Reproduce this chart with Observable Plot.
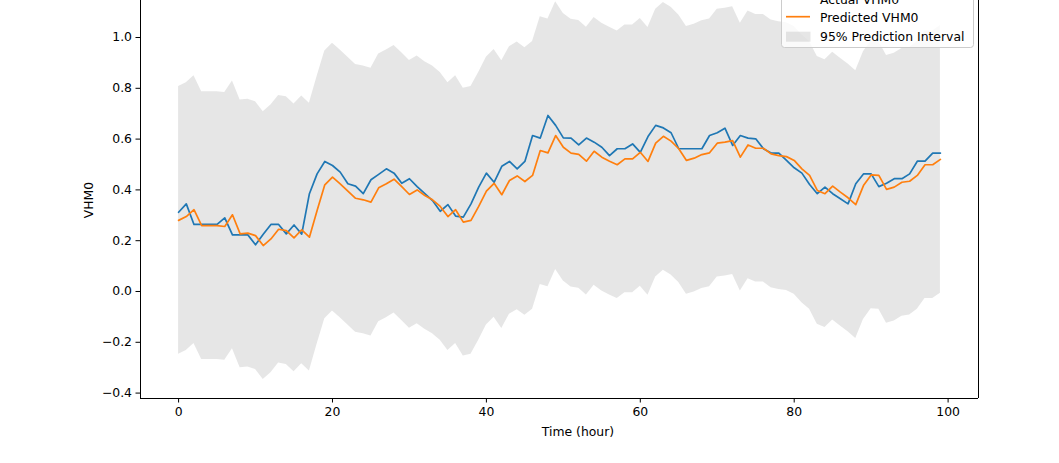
<!DOCTYPE html>
<html>
<head>
<meta charset="utf-8">
<script src="https://cdn.jsdelivr.net/npm/d3@7"></script>
<script src="https://cdn.jsdelivr.net/npm/@observablehq/plot@0.6"></script>
<style>
  body { margin: 0; background: #fff; }
  #chart { position: relative; width: 1059px; height: 463px; overflow: hidden; }
  #chart svg { overflow: hidden; }
</style>
</head>
<body>
<div id="chart"></div>
<script>
// ---- data ----
const hours = [0,1,2,3,4,5,6,7,8,9,10,11,12,13,14,15,16,17,18,19,20,21,22,23,24,25,26,27,28,29,
  30,31,32,33,34,35,36,37,38,39,40,41,42,43,44,45,46,47,48,49,50,51,52,53,54,55,56,57,58,59,
  60,61,62,63,64,65,66,67,68,69,70,71,72,73,74,75,76,77,78,79,80,81,82,83,84,85,86,87,88,89,
  90,91,92,93,94,95,96,97,98,99];

const actual = [0.312,0.345,0.264,0.264,0.264,0.264,0.290,0.223,0.223,0.223,
  0.184,0.225,0.264,0.264,0.227,0.262,0.226,0.385,0.463,0.512,
  0.496,0.470,0.424,0.415,0.385,0.440,0.461,0.483,0.466,0.426,
  0.444,0.413,0.385,0.358,0.316,0.342,0.297,0.293,0.345,0.411,
  0.466,0.430,0.493,0.512,0.483,0.512,0.614,0.604,0.693,0.654,
  0.605,0.604,0.577,0.604,0.588,0.568,0.535,0.562,0.562,0.581,
  0.548,0.610,0.654,0.644,0.625,0.562,0.562,0.562,0.562,0.614,
  0.625,0.643,0.575,0.614,0.604,0.601,0.562,0.545,0.545,0.516,
  0.487,0.466,0.421,0.385,0.411,0.385,0.365,0.345,0.424,0.463,
  0.463,0.413,0.426,0.444,0.444,0.463,0.513,0.513,0.545,0.545];

const predicted = [0.280,0.295,0.322,0.259,0.259,0.259,0.256,0.302,0.227,0.230,
  0.220,0.181,0.207,0.245,0.240,0.211,0.243,0.214,0.319,0.420,
  0.450,0.424,0.395,0.367,0.361,0.352,0.408,0.424,0.442,0.413,
  0.382,0.400,0.378,0.361,0.335,0.295,0.322,0.273,0.280,0.335,
  0.395,0.426,0.381,0.437,0.455,0.433,0.457,0.555,0.546,0.614,
  0.568,0.545,0.540,0.513,0.552,0.529,0.513,0.499,0.522,0.522,
  0.548,0.512,0.584,0.611,0.592,0.562,0.516,0.525,0.539,0.546,
  0.584,0.588,0.594,0.529,0.577,0.564,0.564,0.542,0.535,0.531,
  0.516,0.483,0.457,0.398,0.385,0.415,0.391,0.369,0.342,0.417,
  0.459,0.457,0.402,0.411,0.430,0.434,0.457,0.499,0.499,0.520];

const upper = [0.807,0.822,0.849,0.786,0.786,0.786,0.783,0.829,0.754,0.757,
  0.747,0.708,0.734,0.772,0.767,0.738,0.770,0.741,0.846,0.947,
  0.977,0.951,0.922,0.894,0.888,0.879,0.935,0.951,0.969,0.940,
  0.909,0.927,0.905,0.888,0.862,0.822,0.849,0.800,0.807,0.862,
  0.922,0.953,0.908,0.964,0.982,0.960,0.984,1.082,1.073,1.141,
  1.095,1.072,1.067,1.040,1.079,1.056,1.040,1.026,1.049,1.049,
  1.075,1.039,1.111,1.138,1.119,1.089,1.043,1.052,1.066,1.073,
  1.111,1.115,1.121,1.056,1.104,1.091,1.091,1.069,1.062,1.058,
  1.043,1.010,0.984,0.925,0.912,0.942,0.918,0.896,0.869,0.944,
  0.986,0.984,0.929,0.938,0.957,0.961,0.984,1.026,1.026,1.047];

const lower = [-0.247,-0.232,-0.205,-0.268,-0.268,-0.268,-0.271,-0.225,-0.300,-0.297,
  -0.307,-0.346,-0.320,-0.282,-0.287,-0.316,-0.284,-0.313,-0.208,-0.107,
  -0.077,-0.103,-0.132,-0.160,-0.166,-0.175,-0.119,-0.103,-0.085,-0.114,
  -0.145,-0.127,-0.149,-0.166,-0.192,-0.232,-0.205,-0.254,-0.247,-0.192,
  -0.132,-0.101,-0.146,-0.090,-0.072,-0.094,-0.070,0.028,0.019,0.087,
  0.041,0.018,0.013,-0.014,0.025,0.002,-0.014,-0.028,-0.005,-0.005,
  0.021,-0.015,0.057,0.084,0.065,0.035,-0.011,-0.002,0.012,0.019,
  0.057,0.061,0.067,0.002,0.050,0.037,0.037,0.015,0.008,0.004,
  -0.011,-0.044,-0.070,-0.129,-0.142,-0.112,-0.136,-0.158,-0.185,-0.110,
  -0.068,-0.070,-0.125,-0.116,-0.097,-0.093,-0.070,-0.028,-0.028,-0.007];

const xTicks = [0, 20, 40, 60, 80, 100];
const yTicks = [-0.4, -0.2, 0.0, 0.2, 0.4, 0.6, 0.8, 1.0];
const xDomain = [-4.95, 103.95];
const yDomain = [-0.4213, 1.1457];
const seriesNames = ["Actual VHM0", "Predicted VHM0", "95% Prediction Interval"];
const colors = { actual: "#1f77b4", predicted: "#ff7f0e", band: "gray" };

// ---- table for Plot ----
const rows = hours.map((h, i) => ({
  hour: h, actual: actual[i], predicted: predicted[i], lower: lower[i], upper: upper[i]
}));

const fs = 12.4;
const fmtY = d => (d < 0 ? "\u2212" : "") + Math.abs(d).toFixed(1);

const plot = Plot.plot({
  width: 1059,
  height: 463,
  marginTop: 0,
  marginLeft: 140,
  marginRight: 81,
  marginBottom: 65,
  style: { fontFamily: "DejaVu Sans", fontSize: fs + "px", color: "black", background: "white", overflow: "hidden" },
  x: { domain: xDomain },
  y: { domain: yDomain },
  marks: [
    Plot.areaY(rows, { x: "hour", y1: "lower", y2: "upper", fill: colors.band, fillOpacity: 0.2, clip: true }),
    Plot.lineY(rows, { x: "hour", y: "actual", stroke: colors.actual, strokeWidth: 1.7, clip: true }),
    Plot.lineY(rows, { x: "hour", y: "predicted", stroke: colors.predicted, strokeWidth: 1.7, clip: true }),
    Plot.ruleX([xDomain[0], xDomain[1]], { stroke: "black", strokeWidth: 1 }),
    Plot.ruleY([yDomain[0]], { stroke: "black", strokeWidth: 1 }),
    Plot.axisX({ ticks: xTicks, tickSize: 4.5, tickPadding: 4.5, tickFormat: d => String(d), label: null, fontSize: fs }),
    Plot.axisY({ ticks: yTicks, tickSize: 4.5, tickPadding: 4, tickFormat: fmtY, label: null, fontSize: fs })
  ]
});

document.getElementById("chart").appendChild(plot);

// ---- axis titles and legend ----
const svg = d3.select(plot);
const font = "DejaVu Sans";

svg.append("text")
  .attr("x", 578).attr("y", 436)
  .attr("text-anchor", "middle")
  .attr("font-family", font).attr("font-size", fs).attr("fill", "black")
  .text("Time (hour)");

svg.append("text")
  .attr("transform", "translate(92.5,200) rotate(-90)")
  .attr("text-anchor", "middle")
  .attr("font-family", font).attr("font-size", fs).attr("fill", "black")
  .text("VHM0");

const lg = svg.append("g");
lg.append("rect")
  .attr("x", 781.5).attr("y", -20).attr("width", 192).attr("height", 67.5)
  .attr("rx", 3).attr("fill", "white").attr("fill-opacity", 0.8)
  .attr("stroke", "#cccccc").attr("stroke-width", 1);
lg.append("line").attr("x1", 786).attr("x2", 810).attr("y1", -1.5).attr("y2", -1.5)
  .attr("stroke", colors.actual).attr("stroke-width", 1.7);
lg.append("line").attr("x1", 786).attr("x2", 810).attr("y1", 16.7).attr("y2", 16.7)
  .attr("stroke", colors.predicted).attr("stroke-width", 1.7);
lg.append("rect").attr("x", 786).attr("y", 31.7).attr("width", 24.5).attr("height", 10)
  .attr("fill", colors.band).attr("fill-opacity", 0.2);
const legendY = [3.5, 22, 41];
seriesNames.forEach((name, i) => {
  lg.append("text").attr("x", 820).attr("y", legendY[i])
    .attr("text-anchor", "start")
    .attr("font-family", font).attr("font-size", fs).attr("fill", "black")
    .text(name);
});
</script>
</body>
</html>
